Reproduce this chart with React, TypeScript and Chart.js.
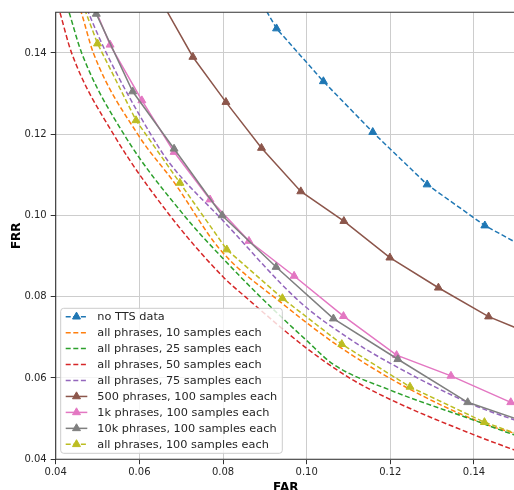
import React, { useEffect, useRef } from "react";
import { Chart, registerables } from "chart.js";

Chart.register(...registerables);

// ---------- data (FAR on x, FRR on y) ----------
const seriesLabels = [
  "no TTS data",
  "all phrases, 10 samples each",
  "all phrases, 25 samples each",
  "all phrases, 50 samples each",
  "all phrases, 75 samples each",
  "500 phrases, 100 samples each",
  "1k phrases, 100 samples each",
  "10k phrases, 100 samples each",
  "all phrases, 100 samples each",
];
const seriesColors = ["#1f77b4", "#ff7f0e", "#2ca02c", "#d62728", "#9467bd", "#8c564b", "#e377c2", "#7f7f7f", "#bcbd22"];
const seriesDashed = [true, true, true, true, true, false, false, false, true];
const seriesMarkers = [true, false, false, false, false, true, true, true, true];

const noTtsFar = [0.085, 0.0928, 0.104, 0.1158, 0.1288, 0.1426, 0.156];
const noTtsFrr = [0.16, 0.146, 0.133, 0.1205, 0.1076, 0.0975, 0.09];

const all10Far = [0.044, 0.0461, 0.049, 0.0596, 0.0684, 0.0793, 0.0942, 0.1084, 0.1247, 0.1425, 0.1496, 0.156];
const all10Frr = [0.156, 0.15, 0.14, 0.12, 0.108, 0.0916, 0.0783, 0.0673, 0.0572, 0.0487, 0.0464, 0.0443];

const all25Far = [0.041, 0.0432, 0.0462, 0.0563, 0.0707, 0.08, 0.0889, 0.1, 0.1063, 0.12, 0.14, 0.1496, 0.156];
const all25Frr = [0.157, 0.15, 0.14, 0.12, 0.1, 0.0894, 0.08, 0.0692, 0.0634, 0.057, 0.0496, 0.046, 0.044];

const all50Far = [0.039, 0.041, 0.0438, 0.0538, 0.0673, 0.08, 0.0853, 0.1, 0.1104, 0.12, 0.14, 0.1496, 0.156];
const all50Frr = [0.157, 0.15, 0.14, 0.12, 0.1, 0.0849, 0.08, 0.0673, 0.0599, 0.0547, 0.046, 0.0423, 0.04];

const all75Far = [0.0455, 0.0478, 0.0521, 0.0627, 0.0673, 0.0801, 0.0984, 0.11, 0.12, 0.14, 0.1496, 0.156];
const all75Frr = [0.156, 0.15, 0.14, 0.12, 0.1128, 0.0986, 0.0787, 0.0698, 0.0636, 0.0533, 0.0497, 0.0475];

const p500Far = [0.064, 0.0728, 0.0807, 0.0892, 0.0986, 0.1089, 0.1199, 0.1315, 0.1435, 0.156];
const p500Frr = [0.155, 0.139, 0.1279, 0.1166, 0.1059, 0.0986, 0.0896, 0.0822, 0.0751, 0.0698];

const p1kFar = [0.047, 0.053, 0.0606, 0.0683, 0.0769, 0.0862, 0.097, 0.1088, 0.1215, 0.1345, 0.1488, 0.158];
const p1kFrr = [0.1568, 0.142, 0.1283, 0.1156, 0.1039, 0.0937, 0.0851, 0.0752, 0.0656, 0.0605, 0.054, 0.0497];

const p10kFar = [0.046, 0.0497, 0.0584, 0.0683, 0.0798, 0.0927, 0.1064, 0.1218, 0.1385, 0.156];
const p10kFrr = [0.1577, 0.1496, 0.1305, 0.1164, 0.1, 0.0873, 0.0746, 0.0646, 0.054, 0.0479];

const all100Far = [0.045, 0.05, 0.0592, 0.0697, 0.0809, 0.0942, 0.1084, 0.1247, 0.1425, 0.156];
const all100Frr = [0.156, 0.1423, 0.1234, 0.108, 0.0916, 0.0796, 0.0683, 0.0578, 0.0491, 0.0442];

const seriesFar = [noTtsFar, all10Far, all25Far, all50Far, all75Far, p500Far, p1kFar, p10kFar, all100Far];
const seriesFrr = [noTtsFrr, all10Frr, all25Frr, all50Frr, all75Frr, p500Frr, p1kFrr, p10kFrr, all100Frr];

const xTitle = "FAR";
const yTitle = "FRR";
const axisMin = 0.04;
const axisMax = 0.15;
const tickStep = 0.02;

// ---------- layout constants ----------
const CANVAS_W = 530;
const CANVAS_H = 490;
const AREA_LEFT = 55.7;
const AREA_TOP = 12.3;
const AREA_RIGHT = 515.8;
const AREA_BOTTOM = 459.2;
const DASH = [5, 2.6];
const LEGEND_FONT = '11.3px "DejaVu Sans"';
const TITLE_FONT = 'bold 12px "DejaVu Sans"';
const TEXT_COLOR = "#262626";
const MARKER_R = 4.6;

function triangle(ctx: CanvasRenderingContext2D, x: number, y: number, r: number, color: string) {
  ctx.save();
  ctx.setLineDash([]);
  ctx.fillStyle = color;
  ctx.strokeStyle = color;
  ctx.lineWidth = 1;
  ctx.beginPath();
  let rad = 0;
  ctx.moveTo(x + Math.sin(rad) * r, y - Math.cos(rad) * r);
  rad += (2 * Math.PI) / 3;
  ctx.lineTo(x + Math.sin(rad) * r, y - Math.cos(rad) * r);
  rad += (2 * Math.PI) / 3;
  ctx.lineTo(x + Math.sin(rad) * r, y - Math.cos(rad) * r);
  ctx.closePath();
  ctx.fill();
  ctx.stroke();
  ctx.restore();
}

const overlayPlugin = {
  id: "overlay",
  afterDatasetsDraw(chart: any) {
    const { ctx, chartArea: a } = chart;
    ctx.save();
    // spines
    ctx.strokeStyle = "#333333";
    ctx.lineWidth = 1.1;
    ctx.setLineDash([]);
    ctx.beginPath();
    ctx.moveTo(a.left, a.top);
    ctx.lineTo(a.right, a.top);
    ctx.lineTo(a.right, a.bottom);
    ctx.lineTo(a.left, a.bottom);
    ctx.closePath();
    ctx.stroke();

    // legend
    const lx = 60.7, ly = 308.3, lw = 221.6, lh = 145;
    ctx.beginPath();
    (ctx as any).roundRect(lx, ly, lw, lh, 3);
    ctx.fillStyle = "rgba(255,255,255,0.8)";
    ctx.fill();
    ctx.strokeStyle = "#cccccc";
    ctx.lineWidth = 1;
    ctx.stroke();
    ctx.font = LEGEND_FONT;
    ctx.textBaseline = "middle";
    ctx.textAlign = "left";
    seriesLabels.forEach((label, i) => {
      const cy = 316.7 + i * 15.95;
      const color = seriesColors[i];
      ctx.strokeStyle = color;
      ctx.lineWidth = 1.5;
      ctx.setLineDash(seriesDashed[i] ? DASH : []);
      ctx.beginPath();
      ctx.moveTo(65.7, cy);
      ctx.lineTo(87.3, cy);
      ctx.stroke();
      if (seriesMarkers[i]) triangle(ctx, 76.5, cy, MARKER_R, color);
      ctx.fillStyle = TEXT_COLOR;
      ctx.fillText(label, 97.3, cy + 0.5);
    });

    // axis titles
    ctx.fillStyle = "#000000";
    ctx.font = TITLE_FONT;
    ctx.textAlign = "center";
    ctx.textBaseline = "alphabetic";
    ctx.fillText(xTitle, (a.left + a.right) / 2, 490.5);
    ctx.save();
    ctx.translate(19.5, (a.top + a.bottom) / 2);
    ctx.rotate(-Math.PI / 2);
    ctx.fillText(yTitle, 0, 0);
    ctx.restore();
    ctx.restore();
  },
};

export default function App() {
  const canvasRef = useRef<HTMLCanvasElement | null>(null);

  useEffect(() => {
    const canvas = canvasRef.current;
    if (!canvas) return;
    const datasets = seriesLabels.map((label, i) => ({
      label,
      data: seriesFar[i].map((x, j) => ({ x, y: seriesFrr[i][j] })),
      borderColor: seriesColors[i],
      backgroundColor: seriesColors[i],
      borderWidth: 1.5,
      borderDash: seriesDashed[i] ? DASH : [],
      pointStyle: "triangle",
      pointRadius: seriesMarkers[i] ? MARKER_R : 0,
      pointHoverRadius: seriesMarkers[i] ? MARKER_R : 0,
      pointBorderWidth: 1,
      pointBorderColor: seriesColors[i],
      pointBackgroundColor: seriesColors[i],
      cubicInterpolationMode: seriesMarkers[i] ? "default" : "monotone",
      tension: seriesMarkers[i] ? 0 : 0.4,
      fill: false,
      clip: 0,
      order: seriesLabels.length - i,
    }));

    const gridCommon = {
      color: "#cdcdcd",
      lineWidth: 1,
      tickColor: "#333333",
      tickLength: 5,
      drawTicks: true,
    };

    const chart = new Chart(canvas, {
      type: "line",
      data: { datasets },
      plugins: [overlayPlugin],
      options: {
        responsive: false,
        animation: false,
        layout: {
          padding: { left: 0, top: AREA_TOP, right: CANVAS_W - AREA_RIGHT, bottom: 0 },
        },
        plugins: { legend: { display: false }, tooltip: { enabled: false } },
        scales: {
          x: {
            type: "linear",
            min: axisMin,
            max: axisMax,
            afterFit: (s: any) => {
              s.height = CANVAS_H - AREA_BOTTOM;
            },
            border: { display: false },
            grid: gridCommon,
            ticks: {
              stepSize: tickStep,
              includeBounds: false,
              autoSkip: false,
              maxRotation: 0,
              padding: 2,
              color: TEXT_COLOR,
              font: { family: "DejaVu Sans", size: 10 },
              callback: (v: any) => Number(v).toFixed(2),
            },
          },
          y: {
            type: "linear",
            min: axisMin,
            max: axisMax,
            afterFit: (s: any) => {
              s.width = AREA_LEFT;
            },
            border: { display: false },
            grid: gridCommon,
            ticks: {
              stepSize: tickStep,
              includeBounds: false,
              autoSkip: false,
              padding: 4,
              color: TEXT_COLOR,
              font: { family: "DejaVu Sans", size: 10 },
              callback: (v: any) => Number(v).toFixed(2),
            },
          },
        },
      } as any,
    });
    return () => chart.destroy();
  }, []);

  return (
    <div style={{ position: "fixed", left: 0, top: 0, width: 514, height: 490, overflow: "hidden", background: "#fff" }}>
      <canvas ref={canvasRef} width={CANVAS_W} height={CANVAS_H} style={{ display: "block", width: CANVAS_W, height: CANVAS_H }} />
    </div>
  );
}
